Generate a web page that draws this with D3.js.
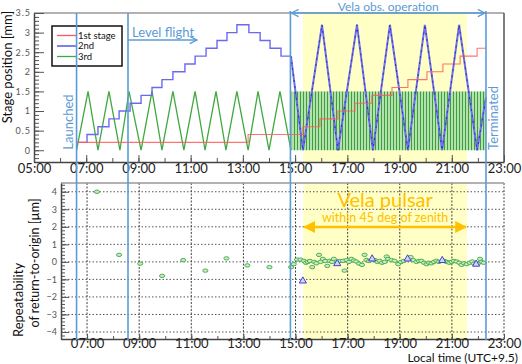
<!DOCTYPE html>
<html><head><meta charset="utf-8">
<script src="https://cdn.jsdelivr.net/npm/d3@7"></script>
<style>
body{margin:0;background:#fff;}
svg{display:block;}
text{font-family:Lato,"Liberation Sans",sans-serif;}
</style></head>
<body><svg id="c" width="522" height="364"></svg>
<script>
// ---------------- DATA ----------------
// Event times (hours, local time)
const eventNames = ["Launched","Level flight","Vela start","Terminated"];
const eventTimes = [6.63, 8.60, 14.82, 22.31];
const velaWindow = [15.30, 21.58];       // Vela pulsar within 45 deg of zenith
const hourTicks = [5,7,9,11,13,15,17,19,21,23];

// 1st stage (red) : step series
const redT = [6.63, 6.63, 13.20, 15.30, 15.95, 16.64, 17.29, 17.94, 18.71, 19.32, 20.05, 20.66, 21.32, 21.97, 22.31];
const redV = [0.0, 0.2, 0.4, 0.6, 0.8, 1.0, 1.2, 1.4, 1.6, 1.8, 2.0, 2.2, 2.4, 2.6, 2.6];

// 2nd stage (blue) : staircase during level flight
const blueStairT = [6.63, 7.03, 7.45, 7.87, 8.26, 8.68, 9.10, 9.52, 9.90, 10.32, 10.78, 11.17, 11.59, 12.01, 12.39, 12.77, 13.23, 13.66, 14.04, 14.46, 14.84];
const blueStairV = [0.2, 0.4, 0.6, 0.8, 1.0, 1.2, 1.4, 1.6, 1.8, 2.0, 2.2, 2.4, 2.6, 2.8, 3.0, 3.2, 3.0, 2.8, 2.6, 2.4, 2.4];
// 2nd stage (blue) : scanning during Vela observation
const blueScanT = [14.84, 15.30, 16.03, 16.64, 17.37, 17.98, 18.63, 19.32, 19.97, 20.63, 21.28, 21.97, 22.31];
const blueScanV = [2.4, 0.0, 3.2, 0.0, 3.2, 0.0, 3.2, 0.0, 3.2, 0.0, 3.2, 0.0, 1.35];

// 3rd stage (green) : triangle scan during level flight
const greenT = [6.63, 7.07, 7.45, 7.87, 8.29, 8.64, 9.10, 9.52, 9.90, 10.32, 10.74, 11.17, 11.55, 11.97, 12.35, 12.77, 13.20, 13.58, 14.00, 14.42, 14.84];
const greenV = [0.0, 1.5, 0.0, 1.5, 0.0, 1.5, 0.0, 1.5, 0.0, 1.5, 0.0, 1.5, 0.0, 1.5, 0.0, 1.5, 0.0, 1.5, 0.0, 1.5, 0.0];
// 3rd stage fast scan band during Vela observation (time range, value range)
const greenFastT = [14.86, 22.31];
const greenFastV = [0.0, 1.5];

// Repeatability of return-to-origin [um]
const repGreenT = [7.38, 8.23, 9.04, 9.88, 10.69, 11.54, 12.35, 13.15, 14.00, 14.83, 14.93, 15.06, 15.19, 15.32, 15.40, 15.47, 15.55, 15.64, 15.72, 15.80, 15.90, 15.96, 16.05, 16.14, 16.22, 16.31, 16.40, 16.47, 16.70, 16.82, 16.88, 16.96, 17.05, 17.14, 17.24, 17.33, 17.44, 17.55, 17.65, 17.72, 17.82, 18.05, 18.14, 18.23, 18.32, 18.42, 18.50, 18.55, 18.68, 18.80, 18.94, 19.05, 19.15, 19.42, 19.52, 19.64, 19.74, 19.83, 19.93, 20.03, 20.12, 20.22, 20.31, 20.41, 20.50, 20.72, 20.80, 20.90, 20.99, 21.08, 21.18, 21.28, 21.37, 21.47, 21.57, 21.68, 21.78, 21.85, 22.00, 22.08, 22.14, 22.22];
const repGreenV = [4.0, 0.4, -0.1, -0.8, 0.1, -0.5, 0.2, -0.2, -0.3, -0.3, -0.13, 0.13, 0.13, 0.06, -0.05, 0.0, 0.05, -0.3, 0.0, -0.08, 0.4, 0.0, 0.17, 0.05, -0.23, 0.06, 0.0, 0.17, 0.05, 0.06, -0.5, 0.1, 0.0, 0.17, 0.08, 0.02, -0.1, -0.17, 0.4, 0.11, 0.05, 0.1, 0.0, 0.06, -0.05, 0.0, 0.3, 0.17, 0.1, 0.06, -0.13, 0.0, 0.05, 0.27, 0.1, 0.0, 0.05, 0.06, -0.05, -0.13, -0.05, -0.08, 0.0, 0.06, 0.0, 0.05, 0.0, -0.05, 0.0, 0.05, 0.02, -0.05, -0.17, -0.08, -0.13, -0.05, 0.02, -0.1, -0.1, 0.17, 0.0, -0.05];
const repBlueT = [15.28, 16.60, 17.94, 19.30, 20.63, 21.93];
const repBlueV = [-1.09, -0.1, 0.17, 0.17, 0.08, -0.13];

const legendLabels = ["1st stage", "2nd", "3rd"];
const seriesColors = ["#ff5a5a", "#3a3ae6", "#3fa83f"];

// ---------------- DRAW ----------------
const svg = d3.select("#c");
const defs = svg.append("defs");
const LB = "#5b9bd5", OR = "#ffc000", YEL = "#ffffc6";

// scales
const xTop = d3.scaleLinear().domain([5, 23]).range([34, 504]);
const yTop = d3.scaleLinear().domain([-0.3, 3.5]).range([162, 13]);
const xBot = d3.scaleLinear().domain([6, 23]).range([61, 504]);
const yBot = d3.scaleLinear().domain([-4.4, 4.5]).range([339, 183]);
const fmtH = d => String(d).padStart(2, "0") + ":00";

// patterns / markers
const pat = defs.append("pattern").attr("id", "fast").attr("patternUnits", "userSpaceOnUse")
  .attr("width", 3).attr("height", 4);
pat.append("rect").attr("width", 3).attr("height", 4).attr("fill", "#b4e2ac");
pat.append("rect").attr("width", 1).attr("height", 4).attr("fill", "#3c9e3c");

function arrowMarker(id, color, w, h, filled) {
  const m = defs.append("marker").attr("id", id).attr("viewBox", "0 0 10 10")
    .attr("refX", 9).attr("refY", 5).attr("markerWidth", w).attr("markerHeight", h)
    .attr("orient", "auto-start-reverse").attr("markerUnits", "userSpaceOnUse");
  if (filled) m.append("path").attr("d", "M0,0L10,5L0,10Z").attr("fill", color);
  else m.append("path").attr("d", "M1,1L9,5L1,9").attr("fill", "none").attr("stroke", color).attr("stroke-width", 1.5);
}
arrowMarker("aBlue", LB, 9, 9, false);
arrowMarker("aOr", OR, 12, 12, true);

// ===== TOP PANEL =====
const gT = svg.append("g");
gT.append("rect").attr("x", xTop(velaWindow[0])).attr("y", yTop(3.5))
  .attr("width", xTop(velaWindow[1]) - xTop(velaWindow[0])).attr("height", yTop(-0.3) - yTop(3.5)).attr("fill", YEL);

// green fast band
gT.append("rect").attr("x", xTop(greenFastT[0])).attr("y", yTop(greenFastV[1]))
  .attr("width", xTop(greenFastT[1]) - xTop(greenFastT[0])).attr("height", yTop(greenFastV[0]) - yTop(greenFastV[1]))
  .attr("fill", "url(#fast)");

// green triangle
const lnT = d3.line().x(d => xTop(d[0])).y(d => yTop(d[1]));
gT.append("path").datum(d3.zip(greenT, greenV)).attr("d", lnT)
  .attr("fill", "none").attr("stroke", seriesColors[2]).attr("stroke-width", 1.3);

// blue
gT.append("path").datum(d3.zip(blueStairT, blueStairV)).attr("d", lnT.curve(d3.curveStepAfter))
  .attr("fill", "none").attr("stroke", "#6a6af0").attr("stroke-width", 1.4);
lnT.curve(d3.curveLinear);
gT.append("path").datum(d3.zip(blueScanT, blueScanV)).attr("d", lnT)
  .attr("fill", "none").attr("stroke", "#7070e6").attr("stroke-width", 2);
gT.append("path").datum(d3.zip(blueScanT, blueScanV)).attr("d", lnT)
  .attr("fill", "none").attr("stroke", "#2a2ad0").attr("stroke-width", 1).attr("stroke-dasharray", "2,4");

// red
gT.append("path").datum(d3.zip(redT, redV)).attr("d", lnT.curve(d3.curveStepAfter))
  .attr("fill", "none").attr("stroke", seriesColors[0]).attr("stroke-width", 1.1).attr("stroke-opacity", 0.85);
lnT.curve(d3.curveLinear);

// frame
gT.append("line").attr("x1", 34).attr("x2", 504).attr("y1", 13).attr("y2", 13).attr("stroke", "#999").attr("stroke-width", 1.5);
gT.append("line").attr("x1", 504).attr("x2", 504).attr("y1", 13).attr("y2", 162).attr("stroke", "#555").attr("stroke-width", 1.5);

// axes
const yTopMaj = d3.range(0, 3.51, 0.5);
const yTopMin = d3.range(-0.3, 3.51, 0.1).map(v => +v.toFixed(2));
gT.append("g").attr("transform", "translate(34,0)")
  .call(d3.axisLeft(yTop).tickValues(yTopMin).tickSize(-5).tickFormat("").tickSizeOuter(0))
  .call(g => g.select(".domain").remove()).selectAll("line").attr("stroke", "#555");
const ayT = gT.append("g").attr("transform", "translate(34,0)")
  .call(d3.axisLeft(yTop).tickValues(yTopMaj).tickSize(-10).tickPadding(3).tickSizeOuter(0).tickFormat(d => d));
ayT.select(".domain").attr("stroke", "#444").attr("stroke-width", 1.5);
ayT.selectAll("text").attr("font-family", "Liberation Sans, sans-serif").attr("font-size", 9).attr("fill", "#555").attr("letter-spacing", 1);
ayT.selectAll("line").attr("stroke", "#555");

gT.append("g").attr("transform", "translate(0,162)")
  .call(d3.axisBottom(xTop).tickValues(d3.range(5, 23.1, 1)).tickSize(-4).tickFormat("").tickSizeOuter(0))
  .call(g => g.select(".domain").remove()).selectAll("line").attr("stroke", "#555");
const axT = gT.append("g").attr("transform", "translate(0,162)")
  .call(d3.axisBottom(xTop).tickValues(hourTicks).tickSize(-7).tickPadding(2).tickSizeOuter(0).tickFormat(fmtH));
axT.select(".domain").attr("stroke", "#444").attr("stroke-width", 1.5);
axT.selectAll("line").attr("stroke", "#555");
axT.selectAll("text").attr("font-family", "Liberation Sans, Arial, sans-serif").attr("font-size", 13).attr("fill", "#222");

// y title
svg.append("text").attr("transform", "translate(12,67) rotate(-90)").attr("text-anchor", "middle")
  .attr("font-size", 13).attr("fill", "#111").text("Stage position [mm]");

// legend
const lg = svg.append("g");
lg.append("rect").attr("x", 52).attr("y", 26).attr("width", 70).attr("height", 40)
  .attr("fill", "#fff").attr("stroke", "#111").attr("stroke-width", 1.5);
legendLabels.forEach((l, i) => {
  const yy = 35.5 + i * 10.5;
  lg.append("line").attr("x1", 57).attr("x2", 76).attr("y1", yy).attr("y2", yy).attr("stroke", seriesColors[i]).attr("stroke-width", 1.3);
  lg.append("text").attr("x", 78).attr("y", yy + 3.3).attr("font-size", 9.5).attr("fill", "#111").text(l);
});

// ===== BOTTOM PANEL =====
const gB = svg.append("g");
gB.append("rect").attr("x", xBot(velaWindow[0])).attr("y", 183)
  .attr("width", xBot(velaWindow[1]) - xBot(velaWindow[0])).attr("height", 339 - 183).attr("fill", YEL);

// grid
d3.range(-4, 4.1, 1).forEach(v => {
  gB.append("line").attr("x1", 61).attr("x2", 504).attr("y1", yBot(v)).attr("y2", yBot(v))
    .attr("stroke", "#555").attr("stroke-width", 1).attr("stroke-dasharray", "1.5,2");
});
hourTicks.filter(h => h >= 7).forEach(h => {
  gB.append("line").attr("x1", xBot(h)).attr("x2", xBot(h)).attr("y1", 183).attr("y2", 339)
    .attr("stroke", "#444").attr("stroke-width", 1).attr("stroke-dasharray", "2,1.5");
});
gB.append("line").attr("x1", 61).attr("x2", 504).attr("y1", 183).attr("y2", 183).attr("stroke", "#999").attr("stroke-width", 1.5);

// axes
gB.append("g").attr("transform", "translate(61,0)")
  .call(d3.axisLeft(yBot).tickValues(d3.range(-4.4, 4.51, 0.2).map(v => +v.toFixed(2))).tickSize(-4).tickFormat("").tickSizeOuter(0))
  .call(g => g.select(".domain").remove()).selectAll("line").attr("stroke", "#555");
const ayB = gB.append("g").attr("transform", "translate(61,0)")
  .call(d3.axisLeft(yBot).tickValues(d3.range(-4, 4.1, 1)).tickSize(-8).tickPadding(4).tickSizeOuter(0).tickFormat(d => d < 0 ? "\u2212" + (-d) : d));
ayB.select(".domain").attr("stroke", "#444").attr("stroke-width", 1.5);
ayB.selectAll("line").attr("stroke", "#555");
ayB.selectAll("text").attr("font-family", "Liberation Sans, sans-serif").attr("font-size", 9).attr("fill", "#555");

gB.append("g").attr("transform", "translate(0,339)")
  .call(d3.axisBottom(xBot).tickValues(d3.range(6, 23.1, 1)).tickSize(-3).tickFormat("").tickSizeOuter(0))
  .call(g => g.select(".domain").remove()).selectAll("line").attr("stroke", "#555");
const axB = gB.append("g").attr("transform", "translate(0,339)")
  .call(d3.axisBottom(xBot).tickValues(hourTicks.filter(h => h >= 7)).tickSize(-5).tickPadding(0).tickSizeOuter(0).tickFormat(fmtH));
axB.select(".domain").attr("stroke", "#444").attr("stroke-width", 1.5);
axB.selectAll("line").attr("stroke", "#555");
axB.selectAll("text").attr("font-family", "Liberation Sans, Arial, sans-serif").attr("font-size", 13).attr("fill", "#222");

// points
gB.selectAll("ellipse.g").data(d3.zip(repGreenT, repGreenV)).join("ellipse")
  .attr("cx", d => xBot(d[0])).attr("cy", d => yBot(d[1])).attr("rx", 2.6).attr("ry", 1.7)
  .attr("fill", "#c8eac8").attr("stroke", "#4cb04c").attr("stroke-width", 1);
const sym = d3.symbol().type(d3.symbolTriangle).size(22);
gB.selectAll("path.t").data(d3.zip(repBlueT, repBlueV)).join("path")
  .attr("transform", d => `translate(${xBot(d[0])},${yBot(d[1])})`).attr("d", sym)
  .attr("fill", "#d4d4f4").attr("stroke", "#4040d0").attr("stroke-width", 1);

// titles
svg.append("text").attr("transform", "translate(23,300) rotate(-90)").attr("text-anchor", "middle")
  .attr("font-size", 13).attr("fill", "#111").text("Repeatability");
svg.append("text").attr("transform", "translate(39,263) rotate(-90)").attr("text-anchor", "middle")
  .attr("font-size", 12.5).attr("fill", "#111").text("of return-to-origin [\u00b5m]");
svg.append("text").attr("x", 518).attr("y", 362).attr("text-anchor", "end")
  .attr("font-size", 12).attr("fill", "#111").text("Local time (UTC+9.5)");

// ===== EVENT LINES & ANNOTATIONS =====
eventTimes.forEach((t, i) => {
  const x = xTop(t);
  svg.append("line").attr("x1", x).attr("x2", x).attr("y1", i >= 2 ? 11 : 13).attr("y2", 340)
    .attr("stroke", LB).attr("stroke-width", 1.6);
});
svg.append("text").attr("transform", `translate(${xTop(eventTimes[0]) - 4},122) rotate(-90)`)
  .attr("text-anchor", "middle").attr("font-size", 13).attr("fill", LB).text("Launched");
svg.append("text").attr("transform", `translate(${xTop(eventTimes[3]) + 12},118) rotate(-90)`)
  .attr("text-anchor", "middle").attr("font-size", 13).attr("fill", LB).text("Terminated");
svg.append("text").attr("x", xTop(eventTimes[1]) + 4).attr("y", 37)
  .attr("font-size", 13).attr("fill", LB).text("Level flight");
svg.append("line").attr("x1", xTop(eventTimes[1])).attr("x2", 197).attr("y1", 40).attr("y2", 40)
  .attr("stroke", LB).attr("stroke-width", 1.3).attr("marker-end", "url(#aBlue)");
svg.append("text").attr("x", (xTop(eventTimes[2]) + xTop(eventTimes[3])) / 2).attr("y", 11)
  .attr("text-anchor", "middle").attr("font-size", 12).attr("fill", LB).text("Vela obs. operation");
svg.append("line").attr("x1", xTop(eventTimes[2]) + 1).attr("x2", xTop(eventTimes[3]) - 1).attr("y1", 13).attr("y2", 13)
  .attr("stroke", LB).attr("stroke-width", 1.3).attr("marker-start", "url(#aBlue)").attr("marker-end", "url(#aBlue)");

// Vela pulsar
const vx = (xBot(velaWindow[0]) + xBot(velaWindow[1])) / 2;
svg.append("text").attr("x", vx).attr("y", 207).attr("text-anchor", "middle")
  .attr("font-size", 20).attr("fill", OR).text("Vela pulsar");
svg.append("text").attr("x", vx).attr("y", 222).attr("text-anchor", "middle")
  .attr("font-size", 12.5).attr("fill", OR).text("within 45 deg of zenith");
svg.append("line").attr("x1", xBot(velaWindow[0]) + 1).attr("x2", xBot(velaWindow[1]) - 1).attr("y1", 227).attr("y2", 227)
  .attr("stroke", OR).attr("stroke-width", 2.5).attr("marker-start", "url(#aOr)").attr("marker-end", "url(#aOr)");
</script></body></html>
